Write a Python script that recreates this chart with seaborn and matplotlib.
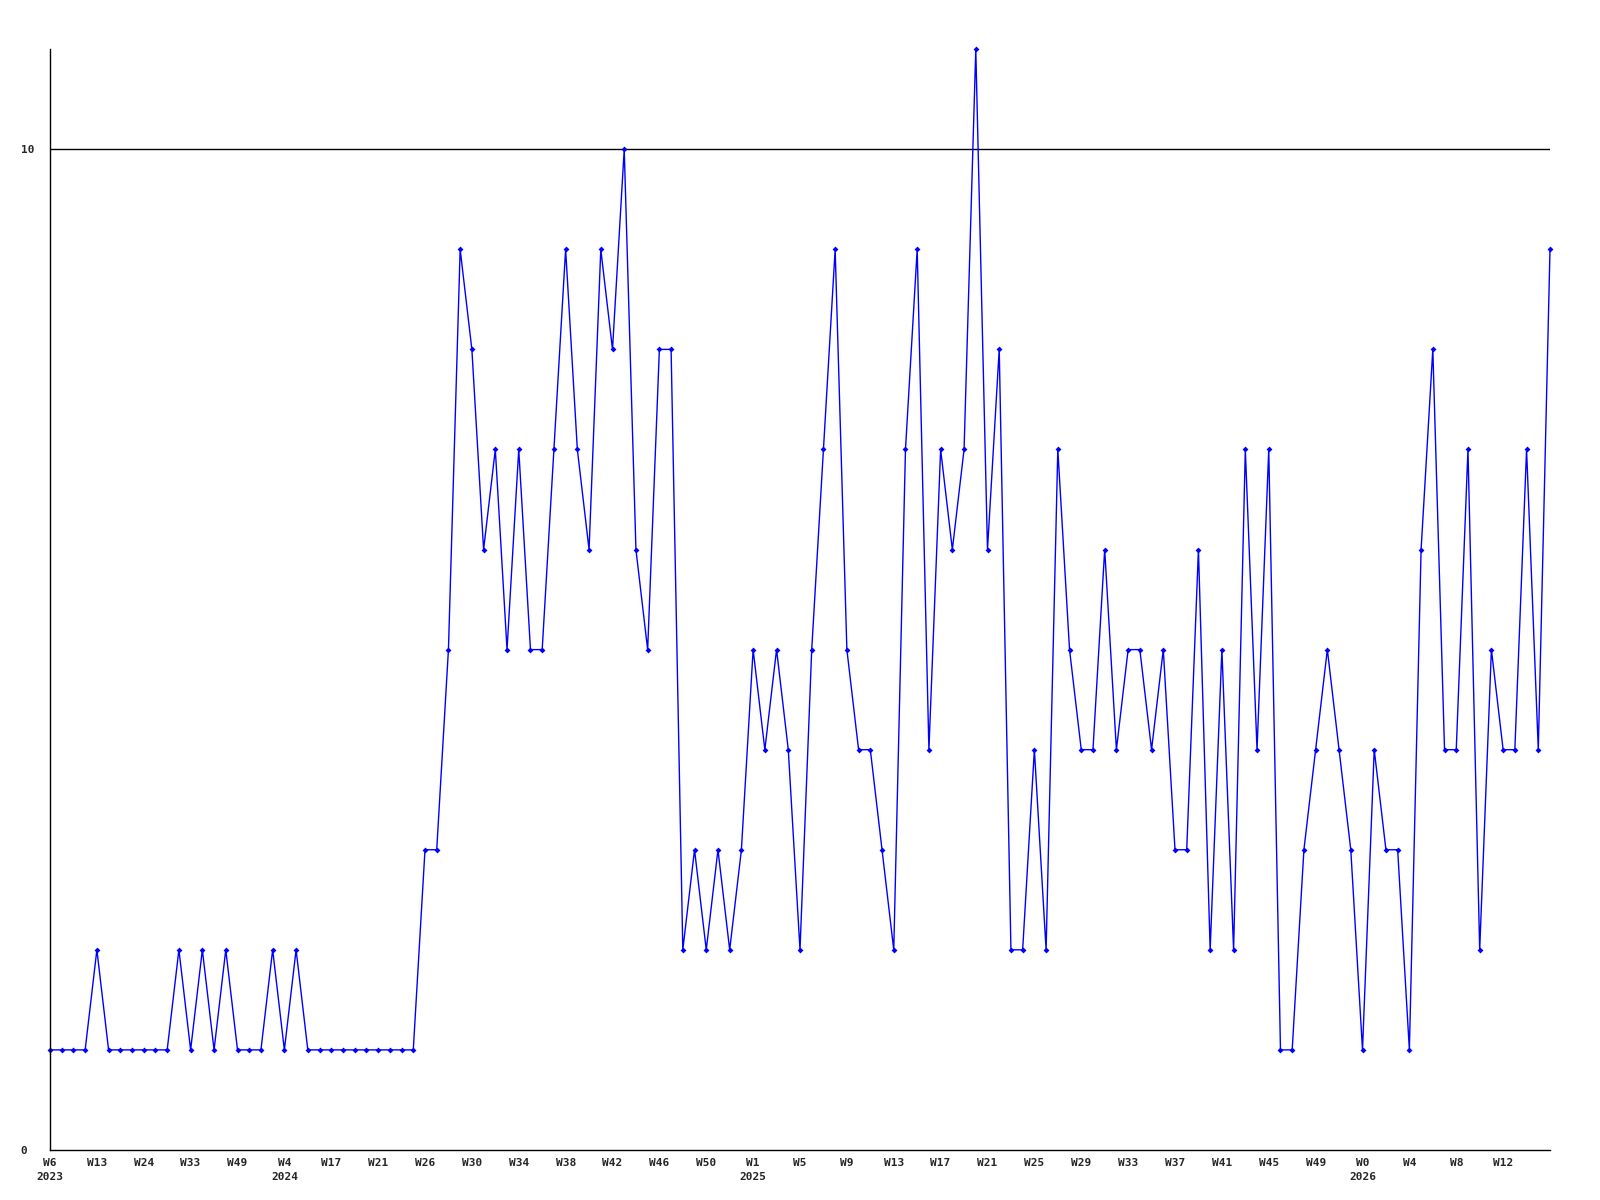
import matplotlib
matplotlib.use("Agg")
import matplotlib.pyplot as plt
import seaborn as sns
import numpy as np
import pandas as pd

# ── Data (weekly counts) ─────────────────────────────────────────────────────
counts = [
    1, 1, 1, 1, 2, 1, 1, 1, 1, 1, 1, 2, 1, 2, 1, 2, 1, 1, 1, 2,
    1, 2, 1, 1, 1, 1, 1, 1, 1, 1, 1, 1, 3, 3, 5, 9, 8, 6, 7, 5,
    7, 5, 5, 7, 9, 7, 6, 9, 8, 10, 6, 5, 8, 8, 2, 3, 2, 3, 2, 3,
    5, 4, 5, 4, 2, 5, 7, 9, 5, 4, 4, 3, 2, 7, 9, 4, 7, 6, 7, 11,
    6, 8, 2, 2, 4, 2, 7, 5, 4, 4, 6, 4, 5, 5, 4, 5, 3, 3, 6, 2,
    5, 2, 7, 4, 7, 1, 1, 3, 4, 5, 4, 3, 1, 4, 3, 3, 1, 6, 8, 4,
    4, 7, 2, 5, 4, 4, 7, 4, 9,
]
tick_labels = [
    "W6\n2023", "W13", "W24", "W33", "W49", "W4\n2024", "W17", "W21",
    "W26", "W30", "W34", "W38", "W42", "W46", "W50", "W1\n2025",
    "W5", "W9", "W13", "W17", "W21", "W25", "W29", "W33",
    "W37", "W41", "W45", "W49", "W0\n2026", "W4", "W8", "W12",
]

df = pd.DataFrame({"week": np.arange(len(counts)), "count": counts})

# ── Chart ────────────────────────────────────────────────────────────────────
sns.set_style("white")
plt.rcParams["font.family"] = ["DejaVu Sans Mono"]

fig = plt.figure(figsize=(16, 12), dpi=100)
ax = fig.add_axes([0.03125, 0.0417, 0.9375, 0.9173])

sns.lineplot(data=df, x="week", y="count", ax=ax, color="#0000ff",
             linewidth=1.0, marker="D", markersize=3, markeredgewidth=0,
             clip_on=False)
ax.axhline(10, color="black", linewidth=1.0, zorder=1)

ax.set_xlim(0, len(counts) - 1)
ax.set_ylim(0, 11)
ax.set_yticks([0, 10])
ax.set_yticklabels(["0", "10"], fontsize=8, fontweight="bold", ha="left")
ax.set_xticks(df["week"][::4][:len(tick_labels)])
ax.set_xticklabels(tick_labels, fontsize=8, fontweight="bold", linespacing=1.5)
ax.tick_params(axis="both", length=0, pad=6)
ax.tick_params(axis="y", pad=21)
ax.set_xlabel("")
ax.set_ylabel("")
for side in ["top", "right"]:
    ax.spines[side].set_visible(False)
for side in ["left", "bottom"]:
    ax.spines[side].set_color("black")
    ax.spines[side].set_linewidth(1.0)

fig.savefig("out.png", dpi=100)
plt.close(fig)
